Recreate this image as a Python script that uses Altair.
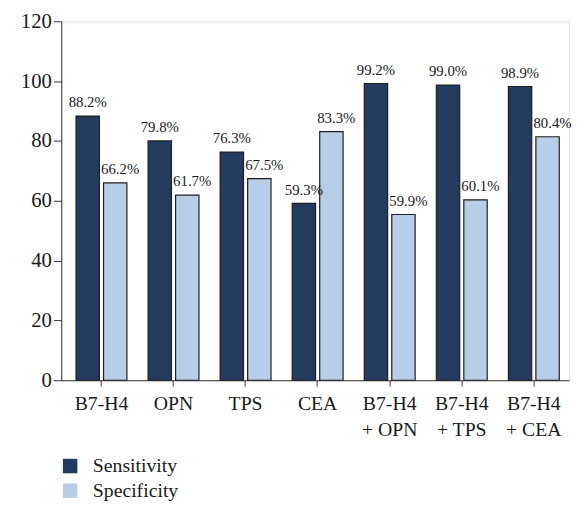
import altair as alt
import pandas as pd

categories = ["B7-H4", "OPN", "TPS", "CEA", "B7-H4\n+ OPN", "B7-H4\n+ TPS", "B7-H4\n+ CEA"]
series = ["Sensitivity", "Specificity"]
sens_heights = [88.3, 80.0, 76.3, 59.1, 99.2, 98.7, 98.2]
spec_heights = [66.0, 61.9, 67.4, 83.1, 55.4, 60.3, 81.4]
sens_labels = ["88.2%", "79.8%", "76.3%", "59.3%", "99.2%", "99.0%", "98.9%"]
spec_labels = ["66.2%", "61.7%", "67.5%", "83.3%", "59.9%", "60.1%", "80.4%"]
y_ticks = [0, 20, 40, 60, 80, 100, 120]
colors = ["#233B5E", "#B8CDE7"]

rows = []
for c, v, l in zip(categories, sens_heights, sens_labels):
    rows.append({"cat": c, "series": series[0], "value": v, "label": l})
for c, v, l in zip(categories, spec_heights, spec_labels):
    rows.append({"cat": c, "series": series[1], "value": v, "label": l})
df = pd.DataFrame(rows)

FONT = "Liberation Serif"

x = alt.X("cat:N", sort=categories, title=None,
          scale=alt.Scale(paddingInner=0.294, paddingOuter=0.171, align=0.6),
          axis=alt.Axis(labelAngle=0, labelFontSize=20, labelFont=FONT, labelColor="#1a1a1a",
                        tickSize=6, labelPadding=8, domainColor="#333", tickColor="#333",
                        labelExpr="split(datum.label, '\\n')", labelLineHeight=26,
                        labelLimit=200))
xo = alt.XOffset("series:N", sort=series, scale=alt.Scale(paddingInner=0.15, paddingOuter=0))
y = alt.Y("value:Q", title=None,
          scale=alt.Scale(domain=[0, 120], nice=False),
          axis=alt.Axis(values=y_ticks, grid=False, labelFontSize=21, labelFont=FONT,
                        labelColor="#1a1a1a", tickSize=8, labelPadding=2,
                        domainColor="#333", tickColor="#333"))

base = alt.Chart(df)

bars = base.mark_bar(stroke="#1e1e1e", strokeWidth=1.2).encode(
    x=x, xOffset=xo, y=y,
    color=alt.Color("series:N", sort=series,
                    scale=alt.Scale(domain=series, range=colors),
                    legend=alt.Legend(title=None, orient="none", legendX=-1, legendY=441,
                                      symbolType="square", symbolSize=216, symbolStrokeWidth=0,
                                      labelFontSize=20, labelFont=FONT, labelColor="#1a1a1a",
                                      labelOffset=13, rowPadding=5, padding=0)),
)

t_sens = base.transform_filter(alt.datum.series == series[0]).mark_text(
    baseline="bottom", dy=-6, dx=0, fontSize=15, font=FONT, color="#1a1a1a"
).encode(x=x, xOffset=xo, y=y, text="label:N")

t_spec = base.transform_filter(alt.datum.series == series[1]).mark_text(
    baseline="bottom", dy=-6, dx=5, fontSize=15, font=FONT, color="#1a1a1a"
).encode(x=x, xOffset=xo, y=y, text="label:N")

chart = alt.layer(bars, t_sens, t_spec).properties(
    width=515, height=364,
    padding={"left": 54, "top": 10, "right": 8, "bottom": 121},
    autosize=alt.AutoSizeParams(type="none"),
).configure_view(stroke=None).configure(background="white", font=FONT).configure_text(font=FONT)

chart.save("out.html", embed_options={"renderer": "svg", "actions": False})
